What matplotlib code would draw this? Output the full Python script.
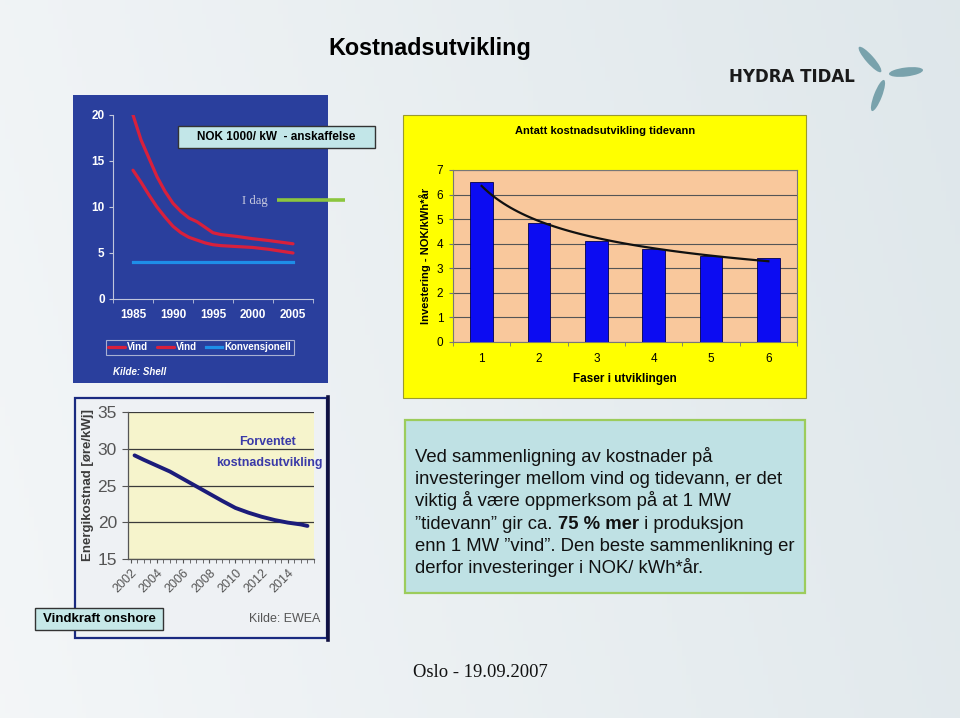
import numpy as np
import matplotlib
matplotlib.use('Agg')
import matplotlib.pyplot as plt
from matplotlib.patches import Rectangle, Ellipse

plt.rcParams['font.family'] = ['Liberation Sans', 'DejaVu Sans']

W, H = 960, 718

# ---------------- data ----------------
shell_years = [1985, 1986, 1987, 1988, 1989, 1990, 1991, 1992, 1993, 1994, 1995, 1996, 1998, 2000, 2002, 2005]
vind_high = [20.0, 17.3, 15.3, 13.3, 11.7, 10.4, 9.5, 8.8, 8.4, 7.8, 7.2, 7.0, 6.8, 6.55, 6.35, 6.0]
vind_low = [14.0, 12.7, 11.3, 10.0, 8.9, 7.9, 7.2, 6.7, 6.4, 6.1, 5.9, 5.8, 5.7, 5.6, 5.4, 5.0]
konv_years = [1985, 2005]
konv_values = [4.0, 4.0]
shell_ticks = [1985, 1990, 1995, 2000, 2005]
shell_yticks = [0, 5, 10, 15, 20]
shell_labels = ['Vind', 'Vind', 'Konvensjonell']

faser = [1, 2, 3, 4, 5, 6]
tidal_cost = [6.52, 4.83, 4.11, 3.77, 3.51, 3.41]
tidal_yticks = [0, 1, 2, 3, 4, 5, 6, 7]

ewea_years = [2002.3, 2003, 2004, 2005, 2006, 2007, 2008, 2009, 2010, 2011, 2012, 2013, 2014, 2015, 2015.5]
ewea_cost = [29.1, 28.5, 27.7, 26.9, 25.9, 24.9, 23.9, 22.9, 21.95, 21.3, 20.75, 20.3, 19.95, 19.7, 19.5]
ewea_ticks = [2002, 2004, 2006, 2008, 2010, 2012, 2014]
ewea_yticks = [15, 20, 25, 30, 35]

body_lines = [
    'Ved sammenligning av kostnader på',
    'investeringer mellom vind og tidevann, er det',
    'viktig å være oppmerksom på at 1 MW',
    None,
    'enn 1 MW ”vind”. Den beste sammenlikning er',
    'derfor investeringer i NOK/ kWh*år.',
]
body_line4 = ['”tidevann” gir ca. ', '75 % mer', ' i produksjon']


def rect(x0, y0, x1, y1):
    return [x0 / W, 1 - y1 / H, (x1 - x0) / W, (y1 - y0) / H]


fig = plt.figure(figsize=(9.6, 7.18), dpi=100)

# ---------------- background layer ----------------
bg = fig.add_axes([0, 0, 1, 1], zorder=0)
bg.set_xlim(0, W)
bg.set_ylim(H, 0)
bg.axis('off')
gx = np.linspace(0, 1, 200)[None, :]
gy = np.linspace(0, 1, 150)[:, None]
c_left = np.array([0.955, 0.965, 0.972])
c_right = np.array([0.865, 0.900, 0.915])
t = np.clip(0.75 * gx + 0.15 * (1 - gy), 0, 1)
img = c_left[None, None, :] * (1 - t[..., None]) + c_right[None, None, :] * t[..., None]
bg.imshow(img, extent=[0, W, H, 0], aspect='auto', zorder=0)

# Title
bg.text(328, 55, 'Kostnadsutvikling', fontsize=16.8, weight='bold', ha='left', va='baseline', color='black')

# Panel 1 blue background
bg.add_patch(Rectangle((73, 95), 255, 288, facecolor='#2a3f9d', edgecolor='none', zorder=1))
bg.text(113, 372, 'Kilde: Shell', fontsize=7, weight='bold', style='italic', color='white', va='center', ha='left', zorder=2)
bg.text(242, 204, 'I dag', fontsize=9.2, family='Liberation Serif', color='#c9cbe0', ha='left', va='baseline', zorder=2)

# Panel 2 yellow background
bg.add_patch(Rectangle((403, 115), 403, 283, facecolor='#ffff00', edgecolor='#9a9a30', lw=0.8, zorder=1))
bg.text(605, 131, 'Antatt kostnadsutvikling tidevann', fontsize=8, weight='bold', ha='center', va='center', zorder=2)
bg.text(625, 379, 'Faser i utviklingen', fontsize=8.5, weight='bold', ha='center', va='center', zorder=2)
bg.text(425, 256, 'Investering - NOK/kWh*år', fontsize=8, weight='bold', rotation=90, ha='center', va='center', zorder=2)

# Panel 3 frame
bg.add_patch(Rectangle((75, 398), 252, 240, facecolor='#eef1f4', edgecolor='#1a2a80', lw=1.6, zorder=1))
bg.plot([327.5, 327.5], [397, 640], color='#101040', lw=2.6, zorder=2)
bg.text(320, 619, 'Kilde: EWEA', fontsize=9, color='#555555', ha='right', va='center', zorder=3)
bg.text(88, 485, 'Energikostnad [øre/kWj]', fontsize=9.5, weight='bold', color='#3c3c3c', rotation=90, ha='center', va='center', zorder=3)

# Text box
bg.add_patch(Rectangle((405, 420), 400, 173, facecolor='#bfe1e4', edgecolor='#9ccc5c', lw=1.6, zorder=1))
fs_body = 13.3
for i, line in enumerate(body_lines):
    yb = 461.7 + 22.3 * i
    if line is not None:
        bg.text(415, yb, line, fontsize=fs_body, ha='left', va='baseline', color='#111111', zorder=2)
    else:
        t1 = bg.text(415, yb, body_line4[0], fontsize=fs_body, ha='left', va='baseline', color='#111111', zorder=2)
        t2 = bg.annotate(body_line4[1], xy=(1, 0), xycoords=t1, fontsize=fs_body, weight='bold',
                         ha='left', va='bottom', color='#111111', zorder=2)
        bg.annotate(body_line4[2], xy=(1, 0), xycoords=t2, fontsize=fs_body,
                    ha='left', va='bottom', color='#111111', zorder=2)

# Footer
bg.text(413, 677, 'Oslo - 19.09.2007', fontsize=13.4, family='Liberation Serif', ha='left', va='baseline', color='#111111')

# ---------------- Panel 1 chart ----------------
ax1 = fig.add_axes(rect(113, 115, 313, 299), zorder=2)
ax1.set_facecolor('none')
l1, = ax1.plot(shell_years, vind_high, color='#d8203c', lw=2.3, solid_capstyle='round')
l2, = ax1.plot(shell_years, vind_low, color='#d8203c', lw=2.3, solid_capstyle='round')
l3, = ax1.plot(konv_years, konv_values, color='#1e8ee8', lw=2.3)
ax1.set_xlim(1982.5, 2007.5)
ax1.set_ylim(0, 20)
ax1.set_xticks(shell_ticks)
ax1.set_xticks(np.arange(1982.5, 2008, 5), minor=True)
ax1.set_yticks(shell_yticks)
ax1.tick_params(axis='x', which='major', length=0, pad=7, labelcolor='white', labelsize=8.5)
ax1.tick_params(axis='x', which='minor', length=3, color='#c0c6dc', direction='out')
ax1.tick_params(axis='y', length=3, color='#c0c6dc', direction='out', labelcolor='white', labelsize=8.5, pad=3)
for lab in ax1.get_xticklabels() + ax1.get_yticklabels():
    lab.set_fontweight('bold')
for s in ['top', 'right']:
    ax1.spines[s].set_visible(False)
for s in ['left', 'bottom']:
    ax1.spines[s].set_color('#c0c6dc')
    ax1.spines[s].set_linewidth(0.8)
leg = ax1.legend([l1, l2, l3], shell_labels, ncol=3, loc='center',
                 bbox_to_anchor=(200 / W, 1 - 347.5 / H), bbox_transform=fig.transFigure,
                 frameon=True, fancybox=False, edgecolor='#c8cde0', facecolor='none',
                 prop={'weight': 'bold', 'size': 7}, labelcolor='white',
                 handlelength=1.7, handletextpad=0.25, columnspacing=0.9, borderpad=0.3)
leg.get_frame().set_linewidth(0.8)

# ---------------- Panel 2 chart ----------------
ax2 = fig.add_axes(rect(453, 170, 797, 342), zorder=2)
ax2.set_facecolor('#f9c89c')
ax2.bar(faser, tidal_cost, width=0.4, color='#0c0cf2', edgecolor='#000050', lw=0.6, zorder=3)
b, ln_a = np.polyfit(np.log(faser), np.log(tidal_cost), 1)
xs = np.linspace(min(faser), max(faser), 80)
ax2.plot(xs, np.exp(ln_a) * xs ** b, color='#111111', lw=1.6, zorder=4)
ax2.set_xlim(0.5, 6.5)
ax2.set_ylim(0, 7)
ax2.set_yticks(tidal_yticks)
ax2.set_xticks(faser)
ax2.set_xticks(np.arange(0.5, 6.6, 1), minor=True)
ax2.grid(axis='y', color='#555555', lw=0.8)
ax2.set_axisbelow(True)
ax2.tick_params(axis='x', which='major', length=0, pad=8, labelsize=8.5)
ax2.tick_params(axis='x', which='minor', length=3, color='#777777')
ax2.tick_params(axis='y', length=3, color='#777777', labelsize=8.5, pad=4)
for s in ax2.spines.values():
    s.set_color('#777777')
    s.set_linewidth(0.8)

# ---------------- Panel 3 chart ----------------
ax3 = fig.add_axes(rect(128, 412, 314, 559), zorder=2)
ax3.set_facecolor('#f6f4cc')
ax3.plot(ewea_years, ewea_cost, color='#1c1c7a', lw=2.8, solid_capstyle='round', zorder=3)
ax3.set_xlim(2001.8, 2016.0)
ax3.set_ylim(15, 35)
ax3.set_yticks(ewea_yticks)
ax3.set_xticks(ewea_ticks)
ax3.set_xticks(np.arange(2002, 2016.01, 0.5), minor=True)
ax3.grid(axis='y', color='#3a3a3a', lw=0.9)
ax3.tick_params(axis='y', length=4, color='#555555', labelsize=12.5, labelcolor='#555555', pad=4)
ax3.tick_params(axis='x', which='both', length=3, color='#555555', labelsize=9, labelcolor='#555555', pad=3)
for lab in ax3.get_xticklabels():
    lab.set_rotation(45)
    lab.set_ha('right')
    lab.set_va('top')
    lab.set_rotation_mode('anchor')
for s in ['top', 'right']:
    ax3.spines[s].set_visible(False)
for s in ['left', 'bottom']:
    ax3.spines[s].set_color('#555555')
    ax3.spines[s].set_linewidth(0.9)

# ---------------- overlay layer ----------------
ov = fig.add_axes([0, 0, 1, 1], zorder=5)
ov.set_xlim(0, W)
ov.set_ylim(H, 0)
ov.axis('off')
ov.patch.set_alpha(0)

ov.add_patch(Rectangle((178, 126), 197, 22, facecolor='#c2e6e8', edgecolor='#333333', lw=1.0))
ov.text(276.5, 137.5, 'NOK 1000/ kW  - anskaffelse', fontsize=8.5, weight='bold', ha='center', va='center')
ov.plot([277, 345], [200, 200], color='#8cc63e', lw=2.6, solid_capstyle='butt')

ov.text(268, 442, 'Forventet', fontsize=9, weight='bold', color='#3a3aa8', ha='center', va='center')
ov.text(269, 463, 'kostnadsutvikling', fontsize=9, weight='bold', color='#3a3aa8', ha='center', va='center')

ov.add_patch(Rectangle((35, 608), 128, 22, facecolor='#c6e8e8', edgecolor='#333333', lw=1.0))
ov.text(99, 619.5, 'Vindkraft onshore', fontsize=9.5, weight='bold', ha='center', va='center')

# Logo
ov.text(792, 77, 'HYDRA TIDAL', fontsize=12, family='DejaVu Sans', weight='bold', ha='center', va='center', color='#1a1a1a')
blade_col = '#79a2ac'
for (xa, ya), (xb, yb), wd in [((859, 47), (881, 72), 8), ((889, 74), (923, 70), 9), ((884, 80), (872, 111), 8)]:
    cx, cy = (xa + xb) / 2, (ya + yb) / 2
    ln = np.hypot(xb - xa, yb - ya)
    ang = np.degrees(np.arctan2(yb - ya, xb - xa))
    ov.add_patch(Ellipse((cx, cy), ln, wd, angle=ang, facecolor=blade_col, edgecolor='none'))

fig.savefig('out.png', dpi=100)
